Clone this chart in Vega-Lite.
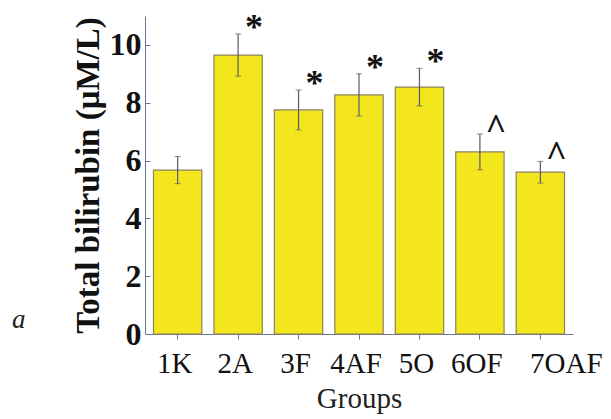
{
  "$schema": "https://vega.github.io/schema/vega-lite/v6.json",
  "width": 428,
  "height": 318,
  "autosize": "none",
  "padding": {"left": 145, "top": 16, "right": 38, "bottom": 85},
  "background": "white",
  "config": {"view": {"stroke": null}, "font": "Liberation Serif"},
  "title": {
    "text": "a",
    "orient": "bottom",
    "anchor": "start",
    "frame": "group",
    "font": "Liberation Serif",
    "fontStyle": "italic",
    "fontWeight": "normal",
    "fontSize": 27,
    "color": "#222",
    "dx": -133,
    "dy": -110
  },
  "data": {
    "values": [
      {"group": "1K", "mean": 5.67, "lower": 5.2, "upper": 6.14, "sig": ""},
      {"group": "2A", "mean": 9.65, "lower": 8.92, "upper": 10.38, "sig": "*"},
      {"group": "3F", "mean": 7.75, "lower": 7.06, "upper": 8.44, "sig": "*"},
      {"group": "4AF", "mean": 8.27, "lower": 7.54, "upper": 9.0, "sig": "*"},
      {"group": "5O", "mean": 8.54, "lower": 7.89, "upper": 9.19, "sig": "*"},
      {"group": "6OF", "mean": 6.3, "lower": 5.68, "upper": 6.92, "sig": "^"},
      {"group": "7OAF", "mean": 5.6, "lower": 5.22, "upper": 5.97, "sig": "^"}
    ]
  },
  "encoding": {
    "x": {
      "field": "group",
      "type": "nominal",
      "sort": null,
      "scale": {"paddingInner": 0.2, "paddingOuter": 0.14},
      "axis": {
        "title": "Groups",
        "titleFont": "Liberation Serif",
        "titleFontSize": 29,
        "titleFontWeight": "normal",
        "titleColor": "#222",
        "titlePadding": 6,
        "labelFont": "Liberation Serif",
        "labelFontSize": 29,
        "labelColor": "#111",
        "labelAngle": 0,
        "labelPadding": 10,
        "labelOffset": {"condition": {"test": "datum.value == '7OAF'", "value": 26}, "value": -3},
        "domainColor": "#6f7394",
        "tickColor": "#6f7394",
        "tickSize": 5
      }
    }
  },
  "layer": [
    {
      "mark": {"type": "bar", "fill": "#f4e61c", "stroke": "#8a8262", "strokeWidth": 1.2},
      "encoding": {
        "y": {
          "field": "mean",
          "type": "quantitative",
          "title": "Total bilirubin (μM/L)",
          "scale": {"domain": [0, 11], "nice": false},
          "axis": {
            "titleFont": "Liberation Serif",
            "titleFontSize": 33,
            "titleFontWeight": "bold",
            "titleColor": "#111",
            "titlePadding": 4,
            "values": [0, 2, 4, 6, 8, 10],
            "labelFont": "Liberation Serif",
            "labelFontSize": 32,
            "labelFontWeight": "bold",
            "labelColor": "#111",
            "labelPadding": 9,
            "grid": false,
            "domainColor": "#6f7394",
            "tickColor": "#6f7394",
            "tickSize": -5
          }
        }
      }
    },
    {
      "mark": {"type": "errorbar", "ticks": {"size": 6, "color": "#555a70"}, "rule": {"color": "#555a70", "strokeWidth": 1.2}},
      "encoding": {
        "y": {"field": "lower", "type": "quantitative", "title": "Total bilirubin (μM/L)"},
        "y2": {"field": "upper"}
      }
    },
    {
      "mark": {"type": "text", "dx": 16, "dy": -6, "fontSize": 36, "fontWeight": "bold", "font": "Liberation Serif", "color": "#111", "baseline": "middle"},
      "encoding": {
        "y": {"field": "upper", "type": "quantitative", "title": "Total bilirubin (μM/L)"},
        "text": {"field": "sig"}
      }
    }
  ]
}
